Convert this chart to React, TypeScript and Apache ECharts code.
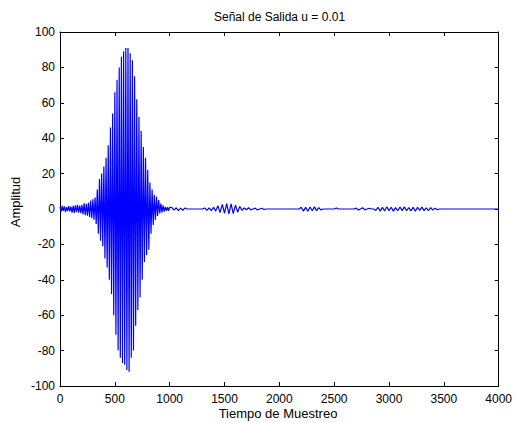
import React, { useEffect, useRef } from "react";
import * as echarts from "echarts";

// Samples 0..1000, step 10 (burst region)
const burstValues = [
  1.2, -1.5, 1.8, -1.0, 1.5, -1.8, 1.0, -1.2, 1.6, -1.4,
  1.3, -2.0, 1.8, -2.2, 2.0, -1.8, 2.3, -2.1, 1.9, -2.4,
  2.2, -3.0, 3.2, -3.5, 3.0, -3.8, 3.5, -4.5, 4.8, -5.2,
  5.5, -6.0, 6.5, -8.5, 11, -14, 17, -18, 20, -21,
  24, -28, 29, -33, 36, -40, 46, -48, 54, -60,
  66, -71, 73, -80, 80, -84, 86, -87, 89, -88,
  91, -91, 91, -92, 88, -84, 84, -80, 75, -66,
  62, -57, 52, -50, 44, -40, 35, -30, 29, -26,
  22, -23, 15, -14, 11, -9, 8, -6, 7, -4,
  5, -2.5, 3, -2, 2, -1.5, 1.2, -1, 1, -1,
  1,
];

// Samples 1020..4000, step 20 (tail region)
const tailValues = [
  0.8, -0.6, 0.7, -0.9, 0.5, -0.7, 0.6,
  0, 0, 0, 0, 0, 0, 0, 0,
  0.6, -0.8, 0.7, -0.9, 1.0, -1.2,
  1.8, -2.0, 2.6, -2.4, 3.0, -2.8, 2.9, -2.6, 2.2, -1.8, 1.4,
  -0.8, 0.6, -0.4, 0.7, -0.5, 0, 0.5, -0.6, 0, 0.4, -0.3, 0,
  0, 0, 0, 0, 0, 0, 0, 0, 0, 0, 0, 0, 0, 0, 0,
  1.0, -1.2, 0.9, -1.3, 1.1, -1.0, 1.2, -0.9, 0.8, -0.6,
  0, 0, 0, 0, 0, 0,
  0.6,
  0, 0, 0, 0, 0, 0, 0, 0,
  0.5, -0.6, 0, 0.7, -0.5, 0, 0.4,
  0, 0,
  -0.8, 1.0, -1.2, 0.9, -1.1, 1.3, -0.9, 1.0, -1.2, 0.8,
  -1.0, 1.1, -0.9, 1.2, -1.0, 0.8, -1.1, 0.9, -1.3, 1.0,
  -0.8, 1.1, -0.9, 0.7, -1.0, 0.8, -0.6, 0.5, -0.4,
  0, 0, 0, 0, 0, 0, 0, 0, 0, 0, 0, 0, 0, 0,
  0, 0, 0, 0, 0, 0, 0, 0, 0, 0, 0, 0, 0, 0,
];

const BURST_STEP = 10;
const TAIL_START = 1020;
const TAIL_STEP = 20;

const xTicksMax = 4000;
const xInterval = 500;
const yMin = -100;
const yMax = 100;
const yInterval = 20;

const titleText = "Señal de Salida u = 0.01";
const xName = "Tiempo de Muestreo";
const yName = "Amplitud";

const FONT = "'Liberation Sans', Arial, Helvetica, sans-serif";

export default function App() {
  const ref = useRef<HTMLDivElement>(null);

  useEffect(() => {
    if (!ref.current) return;
    const chart = echarts.init(ref.current, undefined, { renderer: "svg" });
    const data: [number, number][] = burstValues
      .map((v, i) => [i * BURST_STEP, v] as [number, number])
      .concat(tailValues.map((v, k) => [TAIL_START + k * TAIL_STEP, v] as [number, number]));

    const axisLine = { show: true, onZero: false, lineStyle: { color: "#000", width: 1 } };
    const tickInside = { show: true, inside: true, length: 4, lineStyle: { color: "#000" } };
    const labelStyle = {
      color: "#000",
      fontSize: 12,
      fontFamily: FONT,
      formatter: (v: number) => String(v),
    };

    chart.setOption({
      animation: false,
      backgroundColor: "#fff",
      textStyle: { fontFamily: FONT },
      grid: { left: 60, right: 16, top: 32, bottom: 37, containLabel: false },
      xAxis: [
        {
          type: "value",
          position: "bottom",
          min: 0,
          max: xTicksMax,
          interval: xInterval,
          axisLine,
          axisTick: tickInside,
          splitLine: { show: false },
          axisLabel: { ...labelStyle, margin: 7 },
        },
        {
          type: "value",
          position: "top",
          min: 0,
          max: xTicksMax,
          interval: xInterval,
          axisLine,
          axisTick: tickInside,
          splitLine: { show: false },
          axisLabel: { show: false },
        },
      ],
      yAxis: [
        {
          type: "value",
          position: "left",
          min: yMin,
          max: yMax,
          interval: yInterval,
          axisLine,
          axisTick: tickInside,
          splitLine: { show: false },
          axisLabel: { ...labelStyle, margin: 5 },
        },
        {
          type: "value",
          position: "right",
          min: yMin,
          max: yMax,
          interval: yInterval,
          axisLine,
          axisTick: tickInside,
          splitLine: { show: false },
          axisLabel: { show: false },
        },
      ],
      series: [
        {
          type: "line",
          data,
          showSymbol: false,
          symbol: "none",
          lineStyle: { color: "#0000ff", width: 1.2 },
          xAxisIndex: 0,
          yAxisIndex: 0,
        },
      ],
      graphic: [
        {
          type: "text",
          x: 279.5,
          y: 17,
          style: {
            text: titleText,
            fill: "#000",
            font: `12px ${FONT}`,
            textAlign: "center",
            textVerticalAlign: "middle",
          },
        },
        {
          type: "text",
          x: 278,
          y: 413,
          style: {
            text: xName,
            fill: "#000",
            font: `13px ${FONT}`,
            textAlign: "center",
            textVerticalAlign: "middle",
          },
        },
        {
          type: "text",
          x: 15,
          y: 202,
          rotation: Math.PI / 2,
          style: {
            text: yName,
            fill: "#000",
            font: `13px ${FONT}`,
            textAlign: "center",
            textVerticalAlign: "middle",
          },
        },
      ],
    });
    return () => chart.dispose();
  }, []);

  return (
    <div
      ref={ref}
      style={{ position: "fixed", left: 0, top: 0, width: 515, height: 423, background: "#fff" }}
    />
  );
}
